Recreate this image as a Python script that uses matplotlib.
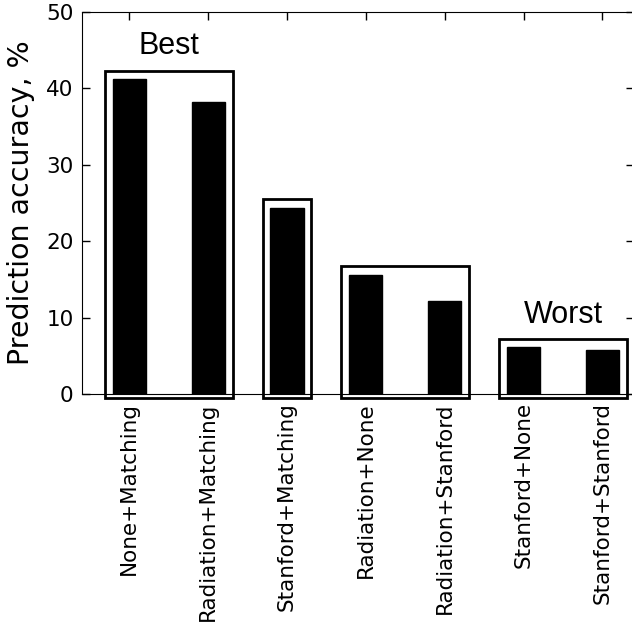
import matplotlib
matplotlib.use("Agg")
import matplotlib.pyplot as plt
from matplotlib.patches import Rectangle

# data
methods = ["None+Matching", "Radiation+Matching", "Stanford+Matching",
           "Radiation+None", "Radiation+Stanford", "Stanford+None", "Stanford+Stanford"]
accuracy = [41.2, 38.2, 24.4, 15.6, 12.2, 6.1, 5.7]

# groups of bars that get a frame around them (first index, last index)
groups = [(0, 1), (2, 2), (3, 4), (5, 6)]

fig = plt.figure(figsize=(6.32, 6.26), dpi=100)
ax = fig.add_axes([0.1297, 0.3706, 0.8734, 0.6102])

x = list(range(len(methods)))
ax.bar(x, accuracy, width=0.42, color="black", edgecolor="black", linewidth=1)

# frames around the groups
for first, last in groups:
    top = max(accuracy[first:last + 1]) + 1.1
    left = first - 0.31
    right = last + 0.31
    ax.add_patch(Rectangle((left, -0.55), right - left, top + 0.55, fill=False,
                           edgecolor="black", linewidth=2, clip_on=False, zorder=5))

ax.text(0.5, 44.5, "Best", ha="center", va="baseline", fontsize=22, family="Liberation Sans")
ax.text(5.5, 9.3, "Worst", ha="center", va="baseline", fontsize=22, family="Liberation Sans")

ax.set_xlim(-0.6, 6.4)
ax.set_ylim(0, 50)
ax.set_xticks(x)
ax.set_xticklabels(methods, rotation=90, fontsize=15.5)
ax.set_yticks([0, 10, 20, 30, 40, 50])
ax.tick_params(axis="y", labelsize=15.5)
ax.tick_params(direction="in", length=6, width=1, top=True, right=True, pad=6)
ax.set_ylabel("Prediction accuracy, %", fontsize=20.5, labelpad=8)

fig.savefig("out.png", dpi=100, facecolor="white")
